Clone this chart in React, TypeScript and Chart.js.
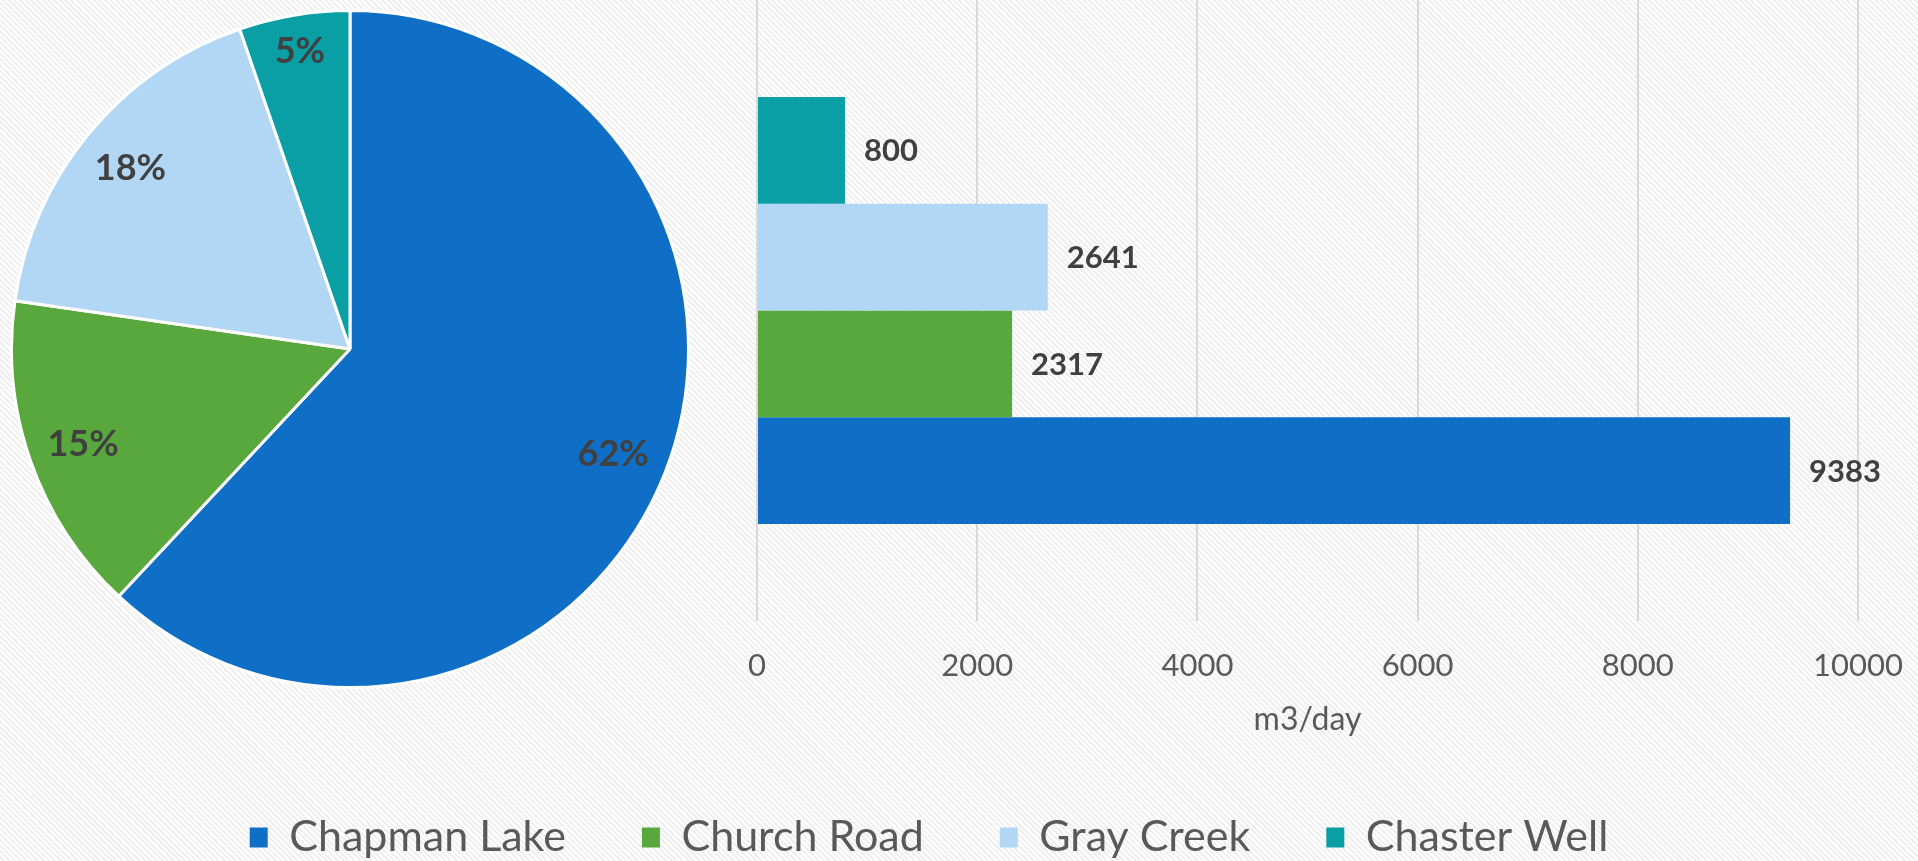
import React, { useEffect, useRef } from "react";
import { Chart, registerables } from "chart.js";

Chart.register(...registerables);

const seriesNames = ["Chapman Lake", "Church Road", "Gray Creek", "Chaster Well"];
const flowValues = [9383, 2317, 2641, 800];
const pieShareLabels = ["62%", "15%", "18%", "5%"];
const seriesColors = ["#0f6fc6", "#58a83e", "#b2d7f5", "#0a9ea5"];
const xTickValues = [0, 2000, 4000, 6000, 8000, 10000];
const xAxisTitle = "m3/day";
// bars are stacked top-to-bottom in reverse legend order
const barOrder = [3, 2, 1, 0];

const FONT = "Lato";
const LABEL_COLOR = "#404040";
const AXIS_COLOR = "#595959";

function capMetrics(ctx: CanvasRenderingContext2D, text: string) {
  const m = ctx.measureText(text);
  return { w: m.width, h: m.actualBoundingBoxAscent };
}

const barLabelPlugin = {
  id: "barLabels",
  afterDatasetsDraw(chart: any) {
    const ctx = chart.ctx as CanvasRenderingContext2D;
    ctx.save();
    ctx.font = `bold 31px ${FONT}`;
    ctx.fillStyle = LABEL_COLOR;
    ctx.textAlign = "left";
    ctx.textBaseline = "alphabetic";
    chart.data.datasets.forEach((ds: any, i: number) => {
      const meta = chart.getDatasetMeta(i);
      meta.data.forEach((el: any, j: number) => {
        const text = String(ds.data[j]);
        const { h } = capMetrics(ctx, text);
        ctx.fillText(text, el.x + 19, el.y + h / 2);
      });
    });
    ctx.restore();
  },
};

const pieLabelPlugin = {
  id: "pieLabels",
  afterDatasetsDraw(chart: any) {
    const ctx = chart.ctx as CanvasRenderingContext2D;
    ctx.save();
    ctx.font = `bold 36px ${FONT}`;
    ctx.fillStyle = LABEL_COLOR;
    ctx.textAlign = "center";
    ctx.textBaseline = "alphabetic";
    const meta = chart.getDatasetMeta(0);
    meta.data.forEach((arc: any, j: number) => {
      const text = pieShareLabels[j];
      const { w, h } = capMetrics(ctx, text);
      const mid = (arc.startAngle + arc.endAngle) / 2;
      const c = Math.cos(mid);
      const s = Math.sin(mid);
      // keep the label's outer corner just inside the rim
      const R = arc.outerRadius * 0.948;
      const b = Math.abs(c) * w + Math.abs(s) * h;
      const c0 = (w * w + h * h) / 4 - R * R;
      const d = (-b + Math.sqrt(b * b - 4 * c0)) / 2;
      const cx = arc.x + c * d;
      const cy = arc.y + s * d;
      ctx.fillText(text, cx, cy + h / 2);
    });
    ctx.restore();
  },
};

export default function App() {
  const pieRef = useRef<HTMLCanvasElement>(null);
  const barRef = useRef<HTMLCanvasElement>(null);

  useEffect(() => {
    Chart.defaults.font.family = FONT;
    const bar = new Chart(barRef.current as HTMLCanvasElement, {
      type: "bar",
      data: {
        labels: [""],
        datasets: barOrder.map((i) => ({
          label: seriesNames[i],
          data: [flowValues[i]],
          backgroundColor: seriesColors[i],
          borderWidth: 0,
          categoryPercentage: 0.688,
          barPercentage: 1,
        })),
      },
      options: {
        indexAxis: "y",
        animation: false,
        responsive: true,
        maintainAspectRatio: false,
        layout: { padding: { top: 0, left: 0, right: 60, bottom: -8 } },
        plugins: {
          legend: {
            position: "bottom",
            reverse: true,
            labels: {
              boxWidth: 18,
              boxHeight: 20,
              padding: 76,
              color: AXIS_COLOR,
              font: { size: 43 },
            },
          },
          tooltip: { enabled: false },
        },
        scales: {
          x: {
            min: 0,
            max: 10000,
            afterBuildTicks: (s: any) => {
              s.ticks = xTickValues.map((v) => ({ value: v }));
            },
            afterFit: (s: any) => {
              s.height = 119;
              s.paddingLeft = 0;
              s.paddingRight = 0;
            },
            ticks: {
              color: AXIS_COLOR,
              font: { size: 31 },
              padding: 26,
              maxRotation: 0,
              callback: (v: any) => String(v),
            },
            grid: { color: "#d9d9d9", lineWidth: 2, drawTicks: false },
            border: { display: false },
            title: {
              display: true,
              text: xAxisTitle,
              color: AXIS_COLOR,
              font: { size: 32, lineHeight: 1 },
              padding: { top: 0, bottom: 4 },
            },
          },
          y: {
            ticks: { display: false },
            grid: { display: false },
            border: { display: false },
            afterFit: (s: any) => {
              s.width = 757;
            },
          },
        },
      } as any,
      plugins: [barLabelPlugin],
    });

    const pie = new Chart(pieRef.current as HTMLCanvasElement, {
      type: "pie",
      data: {
        labels: seriesNames,
        datasets: [
          {
            data: flowValues,
            backgroundColor: seriesColors,
            borderColor: "#ffffff",
            borderWidth: 3,
          },
        ],
      },
      options: {
        animation: false,
        responsive: true,
        maintainAspectRatio: false,
        layout: { padding: 0 },
        plugins: { legend: { display: false }, tooltip: { enabled: false } },
      } as any,
      plugins: [pieLabelPlugin],
    });

    return () => {
      bar.destroy();
      pie.destroy();
    };
  }, []);

  return (
    <div
      style={{
        position: "fixed",
        left: 0,
        top: 0,
        width: 1918,
        height: 861,
        background:
          "repeating-linear-gradient(45deg, #ffffff 0px, #ffffff 2px, #efefef 2px, #efefef 4px)",
      }}
    >
      <div style={{ position: "absolute", left: 0, top: 0, width: 1918, height: 861 }}>
        <canvas ref={barRef} />
      </div>
      <div style={{ position: "absolute", left: 10, top: 9, width: 680, height: 680 }}>
        <canvas ref={pieRef} />
      </div>
    </div>
  );
}
